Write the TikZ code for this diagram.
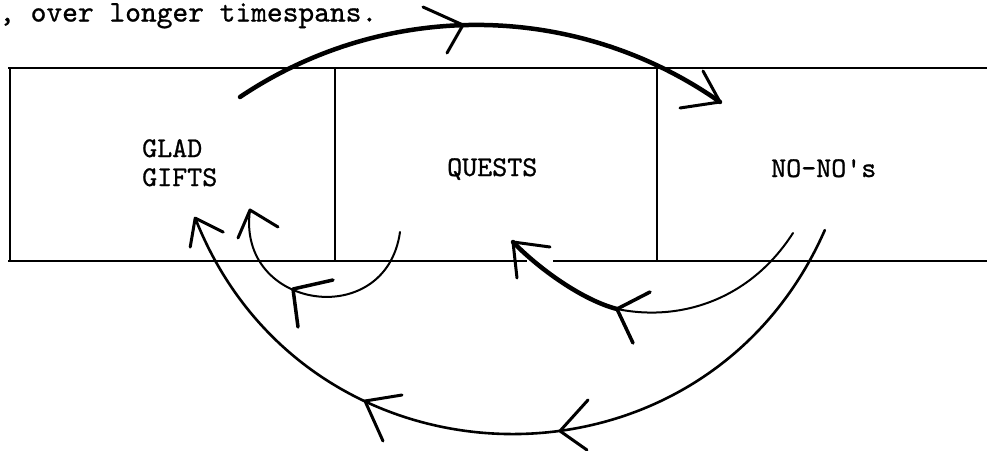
\documentclass[tikz,border=0pt]{standalone}
\usepackage{fontspec}
\usetikzlibrary{calc}

% typewriter face, slightly emboldened like a ribbon impression
\newfontfamily\typer{lmmono10-regular}[Extension=.otf, FakeBold=0.9]

\tikzset{
  frame/.style={line width=1.4pt, black},
  thinarc/.style={line width=2.2pt, line cap=round},
  boldarc/.style={line width=4.5pt, line cap=round},
  barb/.style={line width=3pt, line cap=round, line join=round},
  label/.style={inner sep=0pt, anchor=base west, font=\typer\fontsize{28.6}{30}\selectfont},
}

\begin{document}
\begin{tikzpicture}[x=1pt, y=-1pt]
  \clip (0,0) rectangle (987,450);

  % running text above the chart
  \node[inner sep=0pt, anchor=base west, font=\typer\fontsize{30}{32}\selectfont]
    (caption) at (-1,21.5) {, over longer timespans.};

  % the three compartments
  \coordinate (tl) at (8,68);
  \coordinate (tr) at (987,68);
  \coordinate (bl) at (8,261);
  \coordinate (br) at (987,261);
  \draw[frame] (tl) -- (tr);
  \draw[frame] (10,68) -- (10,261);
  \draw[frame] (bl) -- (527,261);
  \draw[frame] (553,261) -- (br);
  \draw[frame] (335,68) -- (335,261);
  \draw[frame] (657,68) -- (657,261);

  \node[label] (glad)   at (142,157) {GLAD};
  \node[label] (gifts)  at (142,186) {GIFTS};
  \node[label] (quests) at (447,176) {QUESTS};
  \node[label] (nonos)  at (771,177) {NO-NO's};

  % arc end and mid points
  \coordinate (ta) at (240,97);
  \coordinate (tb) at (720,102);
  \coordinate (tm) at (463,25);

  \coordinate (sa) at (400,232);
  \coordinate (sb) at (250,210);
  \coordinate (sm) at (293,289);

  \coordinate (ma) at (793,233);
  \coordinate (mm) at (617,309);
  \coordinate (mb) at (513,242);

  \coordinate (oa) at (824.8,230.1);
  \coordinate (ob) at (195.2,218.1);
  \coordinate (om1) at (560,431);
  \coordinate (om2) at (365,401);

  % upper arc: glad gifts over to no-no's
  \draw[boldarc] (ta) .. controls +(145.6,-97.9) and +(-143.5,-100.9) .. (tb);
  \draw[barb] (tm) ++(-40,-18) -- (tm) -- ++(-16,28);
  \draw[barb] (tb) ++(-17,-31) -- (tb) -- ++(-40,6);

  % small return arc under quests back to glad gifts
  \draw[thinarc, line width=2pt] (sa) .. controls +(-14,100) and +(-14,100) .. (sb);
  \draw[barb, line width=3.5pt] (sm) ++(40,-9) -- (sm) -- ++(5,38);
  \draw[barb] (sb) ++(-12,28) -- (sb) -- ++(28,17);

  % return arc from no-no's to quests
  \draw[thinarc, line width=2pt] (ma) .. controls (750,300) and (680,322) .. (mm);
  \draw[boldarc] (mm) .. controls (582,300) and (538,268) .. (mb);
  \draw[barb, line width=3.5pt] (mm) ++(33,-17) -- (mm) -- ++(16,34);
  \draw[barb] (mb) ++(37,5) -- (mb) -- ++(4,36);

  % large return arc from no-no's to glad gifts
  \draw[thinarc, line width=2.6pt] (oa) .. controls +(-121.9,277.6) and +(111.1,282.1) .. (ob);
  \draw[barb] (om1) ++(28,-31) -- (om1) -- ++(27,19);
  \draw[barb] (om2) ++(37,-6) -- (om2) -- ++(18,40);
  \draw[barb] (ob) ++(-5,29) -- (ob) -- ++(28,14);
\end{tikzpicture}
\end{document}
